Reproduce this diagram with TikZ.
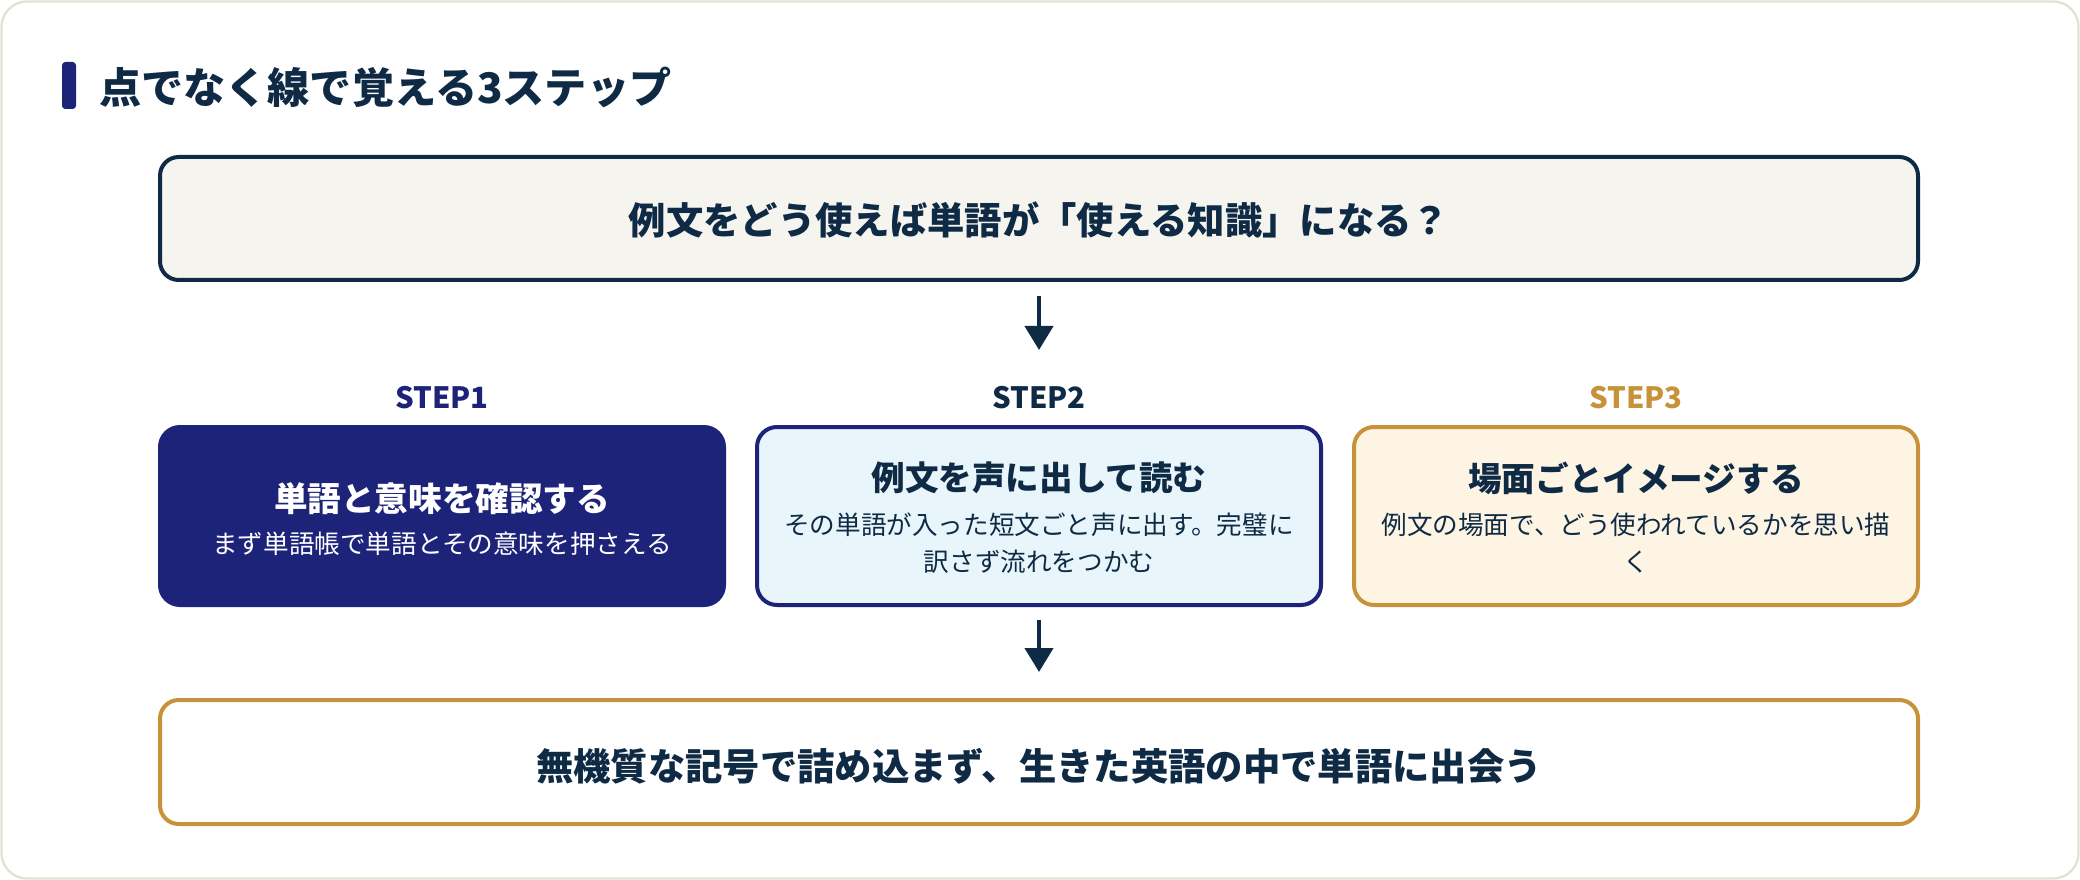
\documentclass[tikz,border=0pt]{standalone}
\usepackage{fontspec}
\setmainfont{Noto Sans CJK JP}
\usetikzlibrary{arrows.meta}
\definecolor{ink}{HTML}{0F2A44}
\definecolor{navy}{HTML}{1E237A}
\definecolor{gold}{HTML}{C8923A}
\definecolor{outerc}{HTML}{E4E2D7}
\definecolor{topfill}{HTML}{F5F4EF}
\definecolor{bluefill}{HTML}{E8F6FC}
\definecolor{creamfill}{HTML}{FDF4E3}
\tikzset{
  panel/.style={rounded corners=14pt, line width=3pt, inner sep=0pt, minimum width=1318.5pt, minimum height=92.25pt},
  stepbox/.style={rounded corners=15pt, line width=3pt, inner sep=0pt, minimum width=423pt, minimum height=133.5pt},
  flow/.style={draw=ink, line width=3.2pt, -{Triangle[width=21pt,length=18pt]}},
  bigtext/.style={font=\fontsize{28pt}{34pt}\selectfont\bfseries, text=ink, inner sep=0pt},
  steplabel/.style={font=\fontsize{22pt}{26pt}\selectfont\bfseries, inner sep=0pt},
  boxtitle/.style={font=\fontsize{25.2pt}{30pt}\selectfont\bfseries, inner sep=0pt},
  boxtext/.style={font=\fontsize{19.2pt}{27.75pt}\selectfont, inner sep=0pt, align=center},
}
\begin{document}
\begin{tikzpicture}[x=0.75pt,y=-0.75pt]
\useasboundingbox (0,0) rectangle (2080,880);
% outer card
\draw[draw=outerc, line width=1.8pt, fill=white, rounded corners=19pt] (1.5,1.5) rectangle (2078.5,878.5);
% heading
\fill[navy, rounded corners=2.5pt] (62,62) rectangle (76,109);
\node[anchor=west, inner sep=0pt, text=ink, font=\fontsize{31.6pt}{38pt}\selectfont\bfseries] (head) at (99,87) {点でなく線で覚える3ステップ};
% top question
\node[panel, draw=ink, fill=topfill] (top) at (1039,218.5) {};
\node[bigtext] (topt) at (1039,220) {例文をどう使えば単語が「使える知識」になる？};
% step labels
\node[steplabel, text=navy] (l1) at (442,398) {STEP1};
\node[steplabel, text=ink] (l2) at (1039,398) {STEP2};
\node[steplabel, text=gold] (l3) at (1636,398) {STEP3};
% step boxes
\node[stepbox, draw=navy, fill=navy] (s1) at (442,516) {};
\node[stepbox, draw=navy, fill=bluefill] (s2) at (1039,516) {};
\node[stepbox, draw=gold, fill=creamfill] (s3) at (1636,516) {};
\node[boxtitle, text=white] (s1t) at (442,499) {単語と意味を確認する};
\node[boxtext, text=white] (s1d) at (442,544) {まず単語帳で単語とその意味を押さえる};
\node[boxtitle, text=ink] (s2t) at (1039,478) {例文を声に出して読む};
\node[boxtext, text=ink] (s2d) at (1039,543.5) {その単語が入った短文ごと声に出す。完璧に\\訳さず流れをつかむ};
\node[boxtitle, text=ink] (s3t) at (1636,478) {場面ごとイメージする};
\node[boxtext, text=ink] (s3d) at (1636,543.5) {例文の場面で、どう使われているかを思い描\\く};
% bottom conclusion
\node[panel, draw=gold, fill=white, minimum height=93pt] (bot) at (1039,762) {};
\node[bigtext] (bott) at (1039,766) {無機質な記号で詰め込まず、生きた英語の中で単語に出会う};
% arrows
\coordinate (a1end) at (1039,350);
\draw[flow, shorten <=10.5pt] (top.south) -- (a1end);
\draw[flow, shorten <=10pt, shorten >=19.5pt] (s2.south) -- (bot.north);
\end{tikzpicture}
\end{document}
